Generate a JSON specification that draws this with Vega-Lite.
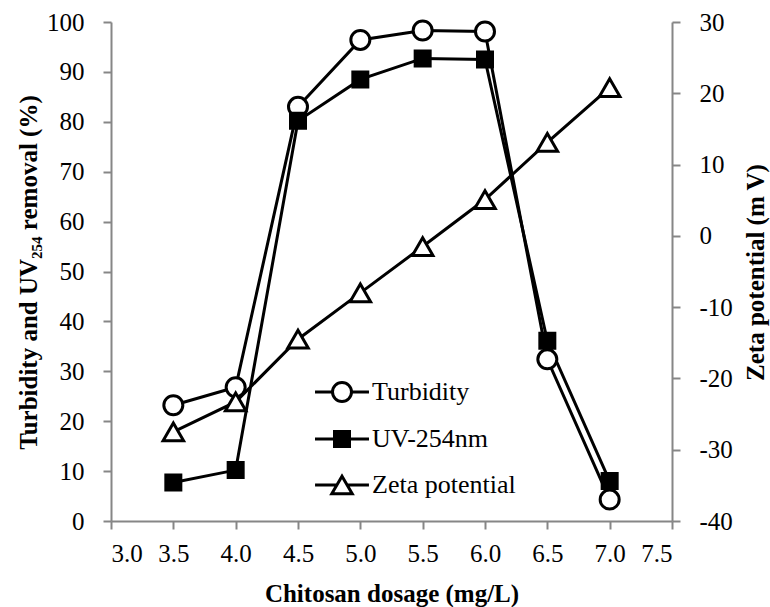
{
  "$schema": "https://vega.github.io/schema/vega-lite/v6.json",
  "width": 561,
  "height": 499,
  "autosize": "none",
  "padding": {"left": 111, "top": 22, "right": 98, "bottom": 86},
  "background": "white",
  "config": {
    "font": "Liberation Serif",
    "view": {"stroke": null},
    "axis": {
      "grid": false,
      "domainColor": "#868686",
      "domainWidth": 2,
      "tickColor": "#868686",
      "tickWidth": 2,
      "tickSize": 8,
      "labelFont": "Liberation Serif",
      "labelFontSize": 25,
      "labelColor": "black",
      "titleFont": "Liberation Serif",
      "titleFontSize": 25,
      "titleFontWeight": "bold",
      "titleColor": "black"
    },
    "legend": {
      "title": null,
      "orient": "none",
      "legendX": 218,
      "legendY": 357,
      "padding": 0,
      "labelFont": "Liberation Serif",
      "labelFontSize": 26,
      "labelColor": "black",
      "labelOffset": 17,
      "rowPadding": 17,
      "symbolSize": 400,
      "symbolOpacity": 1,
      "symbolStrokeColor": "black",
      "symbolStrokeWidth": 3
    }
  },
  "data": {
    "values": [
      {"dosage": 3.5, "series": "Turbidity", "value": 23.2},
      {"dosage": 4.0, "series": "Turbidity", "value": 26.8},
      {"dosage": 4.5, "series": "Turbidity", "value": 83.0},
      {"dosage": 5.0, "series": "Turbidity", "value": 96.4},
      {"dosage": 5.5, "series": "Turbidity", "value": 98.3},
      {"dosage": 6.0, "series": "Turbidity", "value": 98.1},
      {"dosage": 6.5, "series": "Turbidity", "value": 32.4},
      {"dosage": 7.0, "series": "Turbidity", "value": 4.3},
      {"dosage": 3.5, "series": "UV-254nm", "value": 7.7},
      {"dosage": 4.0, "series": "UV-254nm", "value": 10.2},
      {"dosage": 4.5, "series": "UV-254nm", "value": 80.2},
      {"dosage": 5.0, "series": "UV-254nm", "value": 88.5},
      {"dosage": 5.5, "series": "UV-254nm", "value": 92.7},
      {"dosage": 6.0, "series": "UV-254nm", "value": 92.5},
      {"dosage": 6.5, "series": "UV-254nm", "value": 36.1},
      {"dosage": 7.0, "series": "UV-254nm", "value": 8.0},
      {"dosage": 3.5, "series": "Zeta potential", "value": -27.5},
      {"dosage": 4.0, "series": "Zeta potential", "value": -23.3},
      {"dosage": 4.5, "series": "Zeta potential", "value": -14.5},
      {"dosage": 5.0, "series": "Zeta potential", "value": -8.0},
      {"dosage": 5.5, "series": "Zeta potential", "value": -1.5},
      {"dosage": 6.0, "series": "Zeta potential", "value": 5.1},
      {"dosage": 6.5, "series": "Zeta potential", "value": 13.1},
      {"dosage": 7.0, "series": "Zeta potential", "value": 20.8}
    ]
  },
  "encoding": {
    "x": {
      "field": "dosage",
      "type": "quantitative",
      "scale": {"domain": [3, 7.5], "nice": false, "zero": false},
      "axis": {
        "values": [3, 3.5, 4, 4.5, 5, 5.5, 6, 6.5, 7, 7.5],
        "format": ".1f",
        "labelPadding": 12,
        "title": "Chitosan dosage (mg/L)",
        "titlePadding": 15
      }
    }
  },
  "layer": [
    {
      "transform": [{"filter": "datum.series !== 'Zeta potential'"}],
      "encoding": {
        "y": {
          "field": "value",
          "type": "quantitative",
          "scale": {"domain": [0, 100], "nice": false},
          "axis": {
            "orient": "left",
            "values": [0, 10, 20, 30, 40, 50, 60, 70, 80, 90, 100],
            "labelPadding": 19,
            "title": "Turbidity and UV₂₅₄ removal (%)",
            "titleAngle": -90,
            "titleX": -83,
            "titleY": 250,
            "titleAlign": "center",
            "titleBaseline": "middle"
          }
        }
      },
      "layer": [
        {
          "mark": {"type": "line", "color": "black", "strokeWidth": 3},
          "encoding": {"detail": {"field": "series"}}
        },
        {
          "transform": [{"filter": "datum.series === 'Turbidity'"}],
          "mark": {"type": "point", "shape": "circle", "size": 361, "filled": true, "fill": "white", "stroke": "black", "strokeWidth": 3, "opacity": 1},
          "encoding": {}
        },
        {
          "transform": [{"filter": "datum.series === 'UV-254nm'"}],
          "mark": {"type": "point", "shape": "square", "size": 225, "filled": true, "fill": "black", "stroke": "black", "strokeWidth": 3, "opacity": 1},
          "encoding": {}
        },
        {
          "mark": {"type": "point", "filled": true, "opacity": 0},
          "encoding": {
            "fill": {
              "field": "series",
              "type": "nominal",
              "scale": {"domain": ["Turbidity", "UV-254nm", "Zeta potential"], "range": ["white", "black", "white"]},
              "legend": {
                "encode": {
                  "symbols": {
                    "update": {
                      "shape": {"signal": "datum.value === 'Turbidity' ? 'M-2.84,0H-1M1,0H2.84M1,0A1,1,0,1,1,-1,0A1,1,0,1,1,1,0Z' : datum.value === 'UV-254nm' ? 'M-3.6,0H-1M1,0H3.6M-1,-1H1V1H-1Z' : 'M-2.63,0H-0.5M0.5,0H2.63M0,-0.866L-1,0.866L1,0.866Z'"},
                      "size": {"signal": "datum.value === 'Turbidity' ? 361 : datum.value === 'UV-254nm' ? 225 : 420"},
                      "stroke": {"value": "black"},
                      "strokeWidth": {"value": 3},
                      "opacity": {"value": 1}
                    }
                  }
                }
              }
            }
          }
        }
      ]
    },
    {
      "transform": [{"filter": "datum.series === 'Zeta potential'"}],
      "encoding": {
        "y": {
          "field": "value",
          "type": "quantitative",
          "scale": {"domain": [-40, 30], "nice": false, "zero": false},
          "axis": {
            "orient": "right",
            "values": [-40, -30, -20, -10, 0, 10, 20, 30],
            "labelExpr": "replace(datum.label, '−', '-')",
            "labelPadding": 19,
            "title": "Zeta potential (m V)",
            "titleAngle": -90,
            "titleX": 83,
            "titleY": 250,
            "titleAlign": "center",
            "titleBaseline": "middle"
          }
        }
      },
      "layer": [
        {
          "mark": {"type": "line", "color": "black", "strokeWidth": 3},
          "encoding": {}
        },
        {
          "mark": {"type": "point", "shape": "triangle-up", "size": 420, "filled": true, "fill": "white", "stroke": "black", "strokeWidth": 3, "opacity": 1},
          "encoding": {}
        }
      ]
    }
  ],
  "resolve": {"scale": {"y": "independent"}}
}
